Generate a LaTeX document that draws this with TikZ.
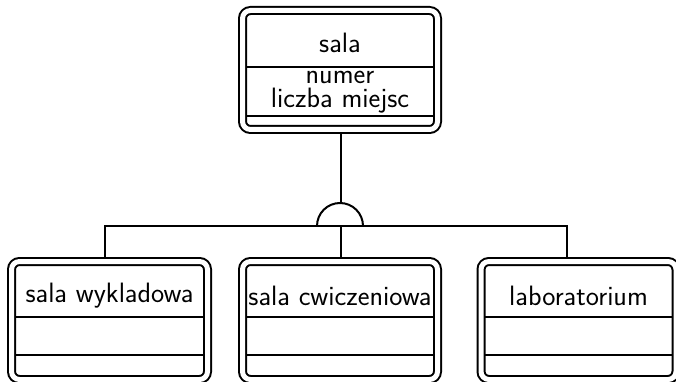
\documentclass[tikz,border=0pt]{standalone}
\usepackage{tikz}
\usetikzlibrary{calc}

\begin{document}
\begin{tikzpicture}[x=1pt, y=-1pt, line width=2pt,
        font=\fontsize{28}{24}\selectfont\sffamily,
        entity/.style={draw=black, double, double distance=5pt, rounded corners=8pt,
            fill=white, outer sep=4.5pt, inner sep=0pt}]
        \useasboundingbox (0,0) rectangle (676,382);

        \node[entity, minimum width=195pt, minimum height=119pt] (sala) at (340,70) {};
        \node (salaT) at (340,43) {sala};
        \node[align=center, inner sep=0pt] (salaA) at (340,92) {numer\\liczba miejsc};
        \draw (246,67) -- (434,67);
        \draw (246,116) -- (434,116);

        \node[entity, minimum width=196pt, minimum height=118pt] (wyklad) at (109.5,320.5) {};
        \node (wykladT) at (109.5,296) {sala wykladowa};
        \draw (15,317) -- (204,317);
        \draw (15,355) -- (204,355);

        \node[entity, minimum width=195pt, minimum height=118pt] (cwicz) at (340,320.5) {};
        \node (cwiczT) at (340,296) {sala cwiczeniowa};
        \draw (246,317) -- (434,317);
        \draw (246,355) -- (434,355);

        \node[entity, minimum width=195pt, minimum height=118pt] (lab) at (578.5,320.5) {};
        \node (labT) at (578.5,296) {laboratorium};
        \draw (485,317) -- (672,317);
        \draw (485,355) -- (672,355);

        % ISA connector
        \coordinate (bar) at (340,226);
        \coordinate (isa) at (340,203);
        \draw ([xshift=1pt]sala.south) -- ([xshift=1pt]isa);
        \draw (317,226) arc (180:360:23);
        \draw ([xshift=-4.5pt]wyklad.north) |- (bar) -| ([xshift=-11.5pt]lab.north);
        \draw (bar -| cwicz.north) ++(1pt,0) -- ([xshift=1pt]cwicz.north);
    \end{tikzpicture}
\end{document}
